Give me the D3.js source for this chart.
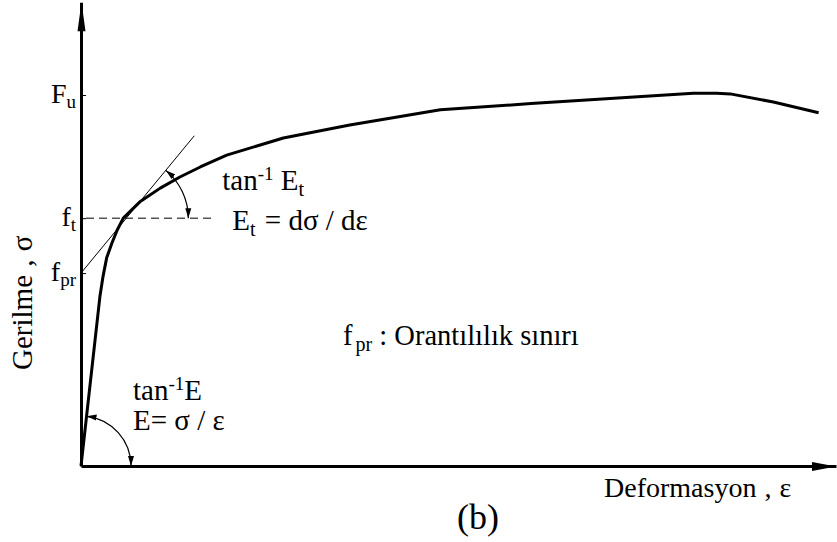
<!DOCTYPE html>
<html>
<head>
<meta charset="utf-8">
<script src="https://cdn.jsdelivr.net/npm/d3@7"></script>
</head>
<body style="margin:0;background:#fff">
<svg id="chart" width="837" height="542" style="display:block"></svg>
<script>
// Stress–strain curve (strain in arbitrary units, stress as % of Fu)
const strain = [0, 2.5, 2.9, 3.4, 4.1, 4.8, 5.6, 7.8, 10.5, 13.1, 15.8, 19.3, 26.8, 35.6, 47.6, 59.6, 81.1, 84.2, 86.0, 91.7, 97.7];
const stress = [0, 45.6, 50.9, 56.1, 60.1, 63.6, 66.8, 71.2, 74.9, 77.9, 80.6, 83.8, 88.4, 91.9, 96.0, 97.7, 100.5, 100.5, 100.3, 98.1, 95.2];

// Characteristic stress levels marked on the vertical axis
const levelValues = [100, 66.8, 52];
const levelMain   = ["F", "f", "f"];
const levelSub    = ["u", "t", "pr"];

// Tangent line at f_t (starts at f_pr on the stress axis)
const tangentStrain = [0, 15];
const tangentStress = [52, 89];

// Extent of the dashed f_t guide
const guideStrainEnd = 17.3;

const FONT = "Liberation Serif";

const svg = d3.select("#chart");
const x = d3.scaleLinear().domain([0, 100]).range([81, 836]);
const y = d3.scaleLinear().domain([0, 125]).range([466, 2.25]);

// Text helpers: every text and tspan carries the serif face explicitly
function addText(parent, size) {
  return parent.append("text").attr("font-family", FONT).attr("font-size", size).attr("fill", "#000");
}
function addSpan(t, str, size, dy, dx) {
  const s = t.append("tspan").attr("font-family", FONT).attr("font-size", size).text(str);
  if (dy) s.attr("dy", dy);
  if (dx) s.attr("dx", dx);
  return s;
}

// Arrow marker for the angle arcs
const defs = svg.append("defs");
defs.append("marker")
  .attr("id", "arcHead")
  .attr("markerUnits", "userSpaceOnUse")
  .attr("viewBox", "-10 -4 10 8")
  .attr("refX", 0).attr("refY", 0)
  .attr("markerWidth", 10).attr("markerHeight", 8)
  .attr("orient", "auto-start-reverse")
  .append("path").attr("d", "M0,0 L-10,-3 L-10,3 Z").attr("fill", "#000");

// Axes
const yAxis = d3.axisLeft(y)
  .tickValues(levelValues)
  .tickSizeInner(-5).tickSizeOuter(0)
  .tickFormat(() => "");
const gy = svg.append("g").attr("transform", `translate(${x(0)},0)`).call(yAxis);
gy.select(".domain").attr("stroke-width", 3);
gy.selectAll(".tick line").attr("stroke-width", 1);
gy.selectAll(".tick text").remove();

const xAxis = d3.axisBottom(x).tickValues([]).tickSizeOuter(0);
const gx = svg.append("g").attr("transform", `translate(0,${y(0)})`).call(xAxis);
gx.select(".domain").attr("stroke-width", 3);

// Axis arrowheads
const [, yTop] = y.range();
svg.append("path")
  .attr("d", `M${x(0) + 0.5},${yTop} L${x(0) + 4.5},${yTop + 29} L${x(0) - 3.5},${yTop + 29} Z`)
  .attr("fill", "#000");
const xEnd = x.range()[1];
svg.append("path")
  .attr("d", `M${xEnd},${y(0) + 0.5} L${xEnd - 24},${y(0) + 5} L${xEnd - 24},${y(0) - 4} Z`)
  .attr("fill", "#000");

// Level labels on the stress axis
levelValues.forEach((v, i) => {
  const t = addText(svg, 28).attr("text-anchor", "end").attr("x", x(0) - 5).attr("y", y(v) + 8);
  addSpan(t, levelMain[i], 28);
  addSpan(t, levelSub[i], 19, 5);
});

// Dashed f_t guide
svg.append("line")
  .attr("x1", x(0) + 5).attr("x2", x(guideStrainEnd))
  .attr("y1", y(levelValues[1])).attr("y2", y(levelValues[1]))
  .attr("stroke", "#000").attr("stroke-width", 1)
  .attr("stroke-dasharray", "8,5");

// Tangent line
svg.append("line")
  .attr("x1", x(tangentStrain[0])).attr("y1", y(tangentStress[0]))
  .attr("x2", x(tangentStrain[1])).attr("y2", y(tangentStress[1]))
  .attr("stroke", "#000").attr("stroke-width", 1);

// Stress–strain curve
const pts = strain.map((s, i) => [s, stress[i]]);
svg.append("path")
  .datum(pts)
  .attr("d", d3.line().x(d => x(d[0])).y(d => y(d[1])).curve(d3.curveLinear))
  .attr("fill", "none").attr("stroke", "#000").attr("stroke-width", 3)
  .attr("stroke-linejoin", "round");

// Angle arc from a direction down to the horizontal, arrowheads at both ends
function angleArc(cx, cy, dx, dy, r) {
  const len = Math.hypot(dx, dy);
  const sx = cx + r * dx / len, sy = cy + r * dy / len;
  svg.append("path")
    .attr("d", `M${sx},${sy} A${r},${r} 0 0 1 ${cx + r},${cy}`)
    .attr("fill", "none").attr("stroke", "#000").attr("stroke-width", 1.2)
    .attr("marker-start", "url(#arcHead)")
    .attr("marker-end", "url(#arcHead)");
}

// Tangent angle at f_t: centre where the tangent meets the f_t level
const tSlope = (tangentStress[1] - tangentStress[0]) / (tangentStrain[1] - tangentStrain[0]);
const tStrain = (levelValues[1] - tangentStress[0]) / tSlope;
angleArc(x(tStrain), y(levelValues[1]),
  x(tangentStrain[1]) - x(tStrain), y(tangentStress[1]) - y(levelValues[1]), 62);

// Initial modulus angle at the origin
angleArc(x(0), y(0), x(strain[1]) - x(0), y(stress[1]) - y(0), 50);

// Annotations
const tp = [x(tStrain), y(levelValues[1])];

const t1 = addText(svg, 29).attr("x", tp[0] + 96).attr("y", tp[1] - 28);
addSpan(t1, "tan", 29);
addSpan(t1, "-1", 19, -10);
addSpan(t1, " E", 29, 10);
addSpan(t1, "t", 20, 6);

const t2 = addText(svg, 29).attr("x", tp[0] + 106).attr("y", tp[1] + 12);
addSpan(t2, "E", 29);
addSpan(t2, "t", 20, 6);
addSpan(t2, " = dσ / dε", 29, -6, 2);

const t3 = addText(svg, 29).attr("x", x(0) + 52).attr("y", y(0) - 66);
addSpan(t3, "tan", 29);
addSpan(t3, "-1", 19, -10);
addSpan(t3, "E", 29, 10);

const t3b = addText(svg, 29).attr("x", x(0) + 52).attr("y", y(0) - 36);
addSpan(t3b, "E= σ / ε", 29);

const t4 = addText(svg, 28.5).attr("x", 343).attr("y", 345);
addSpan(t4, "f", 28.5);
addSpan(t4, "pr", 20, 6, 3);
addSpan(t4, " : Orantılılık sınırı", 28.5, -6);

// Axis titles
const xt = addText(svg, 28).attr("x", 604).attr("y", y(0) + 31);
addSpan(xt, "Deformasyon", 28);
addSpan(xt, " ,", 28, 0, 1);
addSpan(xt, " ε", 28, 0, 1);

const yt = addText(svg, 29).attr("transform", `translate(32,${y(0) - 96}) rotate(-90)`);
addSpan(yt, "Gerilme", 29);
addSpan(yt, " ,", 29, 0, 1);
addSpan(yt, " σ", 29, 0, 1);

const tb = addText(svg, 36).attr("x", 457).attr("y", 529);
addSpan(tb, "(b)", 36);
</script>
</body>
</html>
